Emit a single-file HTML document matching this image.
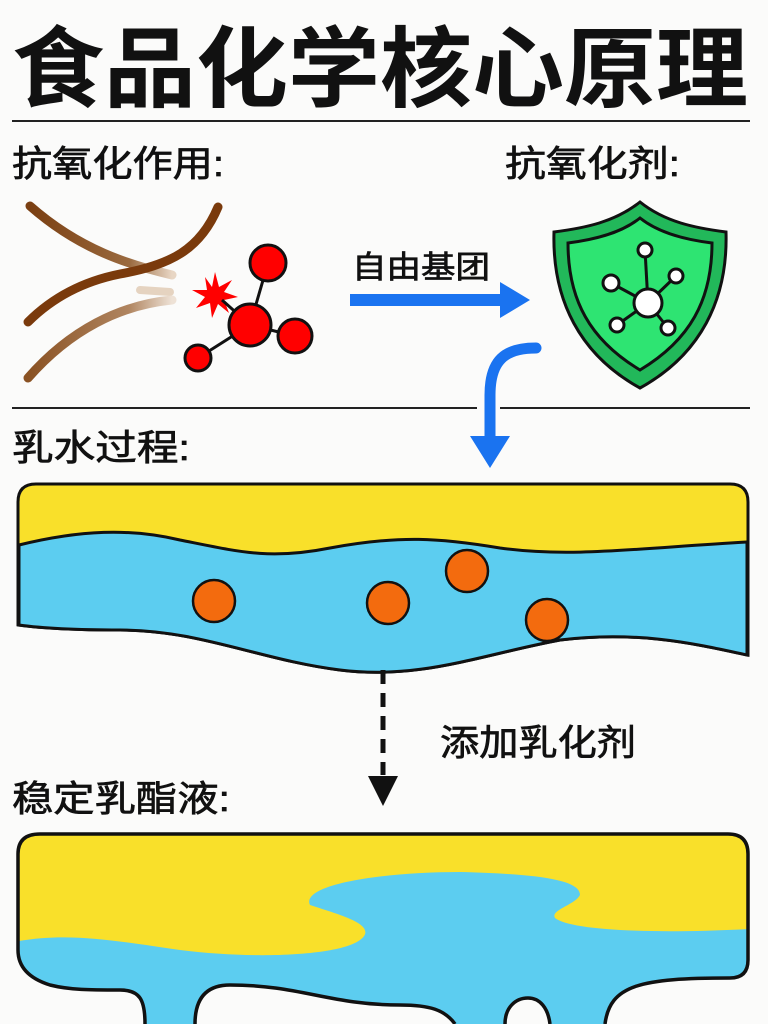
<!DOCTYPE html>
<html><head><meta charset="utf-8"><style>
html,body{margin:0;padding:0;background:#fbfbfa;}
svg{display:block}
text{font-family:"Liberation Sans","Noto Sans CJK SC",sans-serif;fill:#111}
.lb{stroke:#111;stroke-width:0.7}
</style></head><body>
<svg width="768" height="1024" viewBox="0 0 768 1024" xmlns="http://www.w3.org/2000/svg">
<defs>
<linearGradient id="fadeA" x1="0" y1="0" x2="1" y2="0"><stop offset="0" stop-color="#7a3f12"/><stop offset="0.7" stop-color="#9a6a3f"/><stop offset="1" stop-color="#e8d6c4"/></linearGradient>
<linearGradient id="fadeB" x1="0" y1="0" x2="1" y2="0"><stop offset="0" stop-color="#8a5223"/><stop offset="0.7" stop-color="#b08560"/><stop offset="1" stop-color="#eee2d6"/></linearGradient>
<clipPath id="box2"><path id="b2p" d="M145 1024 C145 1000 140 990 120 990 C90 990 70 990 50 985 Q18 975 18 950 V854 Q18 834 40 834 H728 Q748 834 748 854 V960 Q748 978 730 978 C640 978 610 985 605 1024 L550 1024 C548 1008 540 998 528 998 C515 998 505 1008 505 1024 L455 1024 C445 1010 430 1005 400 1005 C330 1005 300 985 230 985 C205 985 195 1000 195 1024 Z"/></clipPath>
</defs>
<text x="12" y="100" font-size="88" font-weight="bold" textLength="736" lengthAdjust="spacingAndGlyphs">食品化学核心原理</text>
<line x1="12" y1="121" x2="750" y2="121" stroke="#222" stroke-width="2"/>
<text class="lb" x="12" y="176" font-size="36" textLength="212" lengthAdjust="spacingAndGlyphs">抗氧化作用:</text>
<text class="lb" x="505" y="176" font-size="36" textLength="175" lengthAdjust="spacingAndGlyphs">抗氧化剂:</text>
<path d="M30 206 C80 250 130 265 172 275" stroke="url(#fadeA)" stroke-width="9" fill="none" stroke-linecap="round"/>
<path d="M140 290 L170 292" stroke="#e5d3c0" stroke-width="8" fill="none" stroke-linecap="round"/>
<path d="M28 378 C70 330 120 305 172 300" stroke="url(#fadeB)" stroke-width="9" fill="none" stroke-linecap="round"/>
<path d="M218 207 C200 250 170 265 120 274 C80 282 50 300 28 322" stroke="#7a3a0c" stroke-width="9" fill="none" stroke-linecap="round"/>
<polygon points="215,272 219,287 232,280 224,292 238,297 224,300 229,313 218,304 212,318 210,303 196,308 205,297 192,290 207,290 205,277 212,287" fill="#f00"/>
<g stroke="#111" stroke-width="3">
<line x1="250" y1="325" x2="268" y2="263"/><line x1="250" y1="325" x2="295" y2="336"/><line x1="250" y1="325" x2="198" y2="358"/><line x1="250" y1="325" x2="222" y2="300"/>
<circle cx="268" cy="263" r="18" fill="#f00"/><circle cx="250" cy="325" r="21" fill="#f00"/><circle cx="295" cy="336" r="17" fill="#f00"/><circle cx="198" cy="358" r="13" fill="#f00"/>
</g>
<text class="lb" x="352" y="278" font-size="31" textLength="138" lengthAdjust="spacingAndGlyphs">自由基团</text>
<path d="M350 294 H500 V282 L530 300 L500 318 V306 H350 Z" fill="#1a73f0"/>
<path d="M640 202 C665 222 695 228 726 232 C728 300 700 355 640 388 C580 355 552 300 554 232 C585 228 615 222 640 202 Z" fill="#22b85a" stroke="#111" stroke-width="3"/>
<path d="M640 218 C660 234 688 240 712 243 C712 300 690 340 640 370 C590 340 568 300 568 243 C592 240 620 234 640 218 Z" fill="#2ee472" stroke="#111" stroke-width="3"/>
<g stroke="#111" stroke-width="3" fill="#fff">
<line x1="648" y1="303" x2="645" y2="250"/><line x1="648" y1="303" x2="611" y2="283"/><line x1="648" y1="303" x2="676" y2="276"/><line x1="648" y1="303" x2="617" y2="325"/><line x1="648" y1="303" x2="668" y2="328"/>
<circle cx="645" cy="250" r="7"/><circle cx="611" cy="283" r="8"/><circle cx="676" cy="276" r="7"/><circle cx="617" cy="325" r="7"/><circle cx="668" cy="328" r="7"/>
<circle cx="648" cy="303" r="14"/>
</g>
<line x1="12" y1="408" x2="477" y2="408" stroke="#222" stroke-width="2"/>
<line x1="500" y1="408" x2="750" y2="408" stroke="#222" stroke-width="2"/>
<path d="M536 348 C505 348 490 360 490 395 L490 440" stroke="#1a73f0" stroke-width="11" fill="none" stroke-linecap="round"/>
<polygon points="470,436 510,436 490,468" fill="#1a73f0"/>
<text class="lb" x="12" y="460" font-size="36" textLength="178" lengthAdjust="spacingAndGlyphs">乳水过程:</text>
<path d="M36 484 H730 Q748 484 748 502 V655 C700 645 640 630 560 640 C480 655 420 680 340 670 C260 660 200 630 120 630 C70 630 40 628 18 625 V502 Q18 484 36 484 Z" fill="#f9e02a" stroke="#111" stroke-width="3"/>
<path d="M19 545 C80 530 130 528 180 540 C240 552 270 560 330 548 C400 535 440 538 500 548 C570 558 640 548 747 542 V655 C700 645 640 630 560 640 C480 655 420 680 340 670 C260 660 200 630 120 630 C70 630 40 628 19 625 Z" fill="#5ccdf0" stroke="#111" stroke-width="3"/>
<g stroke="#111" stroke-width="2.5" fill="#f36b0e">
<circle cx="214" cy="601" r="21"/><circle cx="388" cy="603" r="21"/><circle cx="467" cy="571" r="21"/><circle cx="547" cy="620" r="21"/>
</g>
<line x1="383" y1="670" x2="383" y2="775" stroke="#111" stroke-width="5" stroke-dasharray="14,9"/>
<polygon points="368,776 398,776 383,806" fill="#111"/>
<text class="lb" x="440" y="755" font-size="36" textLength="196" lengthAdjust="spacingAndGlyphs">添加乳化剂</text>
<text class="lb" x="12" y="811" font-size="36" textLength="218" lengthAdjust="spacingAndGlyphs">稳定乳酯液:</text>
<g clip-path="url(#box2)">
<rect x="0" y="820" width="768" height="204" fill="#f9e02a"/>
<path d="M0 945 C60 930 110 940 180 950 C260 960 340 955 360 940 C380 925 340 915 310 905 C300 885 380 872 460 872 C540 874 580 880 580 895 C575 905 550 910 555 918 C570 930 650 935 768 928 V1024 H0 Z" fill="#5ccdf0"/>
</g>
<path d="M145 1024 C145 1000 140 990 120 990 C90 990 70 990 50 985 Q18 975 18 950 V854 Q18 834 40 834 H728 Q748 834 748 854 V960 Q748 978 730 978 C640 978 610 985 605 1024" fill="none" stroke="#111" stroke-width="3.5"/>
<path d="M195 1024 C195 1000 205 985 230 985 C300 985 330 1005 400 1005 C430 1005 445 1010 455 1024" fill="none" stroke="#111" stroke-width="3.5"/>
<path d="M505 1024 C505 1008 515 998 528 998 C540 998 548 1008 550 1024" fill="none" stroke="#111" stroke-width="3.5"/>
</svg>
</body></html>
